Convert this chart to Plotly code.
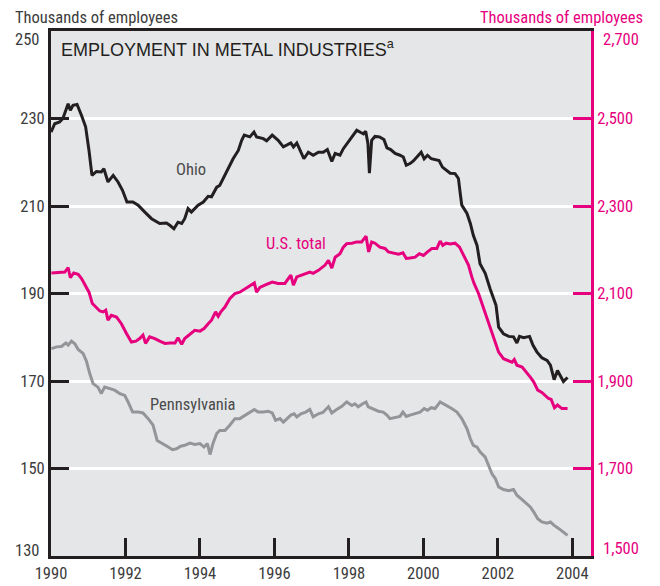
import plotly.graph_objects as go

# ---------------- data ----------------
ohio_t = [1990.00, 1990.10, 1990.23, 1990.32, 1990.46, 1990.52, 1990.59, 1990.70, 1990.82, 1990.93,
          1991.02, 1991.10, 1991.22, 1991.35, 1991.42, 1991.53, 1991.67, 1991.80, 1991.92, 1992.04,
          1992.20, 1992.34, 1992.52, 1992.70, 1992.92, 1993.10, 1993.19, 1993.30, 1993.41, 1993.51,
          1993.59, 1993.68, 1993.77, 1993.95, 1994.09, 1994.22, 1994.31, 1994.45, 1994.53, 1994.62,
          1994.76, 1994.89, 1995.03, 1995.12, 1995.19, 1995.34, 1995.45, 1995.52, 1995.70, 1995.79,
          1995.94, 1996.10, 1996.24, 1996.33, 1996.44, 1996.51, 1996.60, 1996.69, 1996.79, 1996.91,
          1997.04, 1997.18, 1997.31, 1997.42, 1997.54, 1997.63, 1997.76, 1997.85, 1997.98, 1998.12,
          1998.21, 1998.32, 1998.39, 1998.45, 1998.51, 1998.55, 1998.61, 1998.70, 1998.82, 1998.94,
          1999.02, 1999.12, 1999.24, 1999.37, 1999.46, 1999.54, 1999.64, 1999.73, 1999.84, 1999.94,
          2000.02, 2000.11, 2000.21, 2000.31, 2000.42, 2000.51, 2000.61, 2000.72, 2000.85, 2000.94,
          2000.99, 2001.03, 2001.17, 2001.26, 2001.34, 2001.44, 2001.52, 2001.66, 2001.79, 2001.95,
          2002.02, 2002.15, 2002.29, 2002.42, 2002.51, 2002.58, 2002.69, 2002.85, 2002.94, 2003.05,
          2003.18, 2003.32, 2003.41, 2003.51, 2003.60, 2003.76, 2003.87]
ohio_v = [226.9, 228.8, 229.2, 230.0, 233.4, 231.9, 233.0, 233.2, 230.7, 228.1,
          222.7, 217.0, 217.9, 217.8, 218.5, 215.5, 217.0, 215.5, 213.6, 210.9,
          210.9, 210.2, 208.6, 207.1, 206.0, 206.1, 205.6, 204.8, 206.3, 206.0,
          207.1, 209.4, 208.6, 210.2, 210.9, 212.2, 212.1, 214.3, 214.7, 216.3,
          218.5, 220.8, 222.7, 225.0, 226.2, 225.8, 226.9, 225.8, 225.4, 224.9,
          226.2, 225.0, 223.5, 223.9, 224.4, 223.5, 224.4, 222.7, 220.8, 222.3,
          221.6, 222.3, 222.3, 222.9, 220.2, 222.0, 221.6, 223.1, 224.6, 226.2,
          227.3, 226.8, 226.5, 227.1, 224.3, 217.5, 225.0, 225.9, 225.8, 225.2,
          223.3, 222.9, 222.0, 221.6, 221.2, 219.3, 219.7, 220.3, 221.4, 222.3,
          220.8, 221.6, 220.8, 220.6, 220.4, 218.9, 218.3, 217.5, 217.4, 216.3,
          212.8, 210.2, 208.3, 206.0, 203.3, 201.0, 196.8, 194.6, 191.1, 187.3,
          182.3, 180.8, 180.2, 180.1, 178.7, 180.2, 179.9, 180.2, 178.2, 176.6,
          175.3, 174.7, 173.6, 170.3, 172.4, 169.9, 170.8]

us_t = [1990.01, 1990.23, 1990.37, 1990.46, 1990.52, 1990.61, 1990.73, 1990.82, 1990.91, 1991.02,
        1991.11, 1991.22, 1991.31, 1991.40, 1991.47, 1991.53, 1991.62, 1991.76, 1991.89, 1992.03,
        1992.16, 1992.28, 1992.38, 1992.47, 1992.54, 1992.65, 1992.79, 1992.92, 1993.06, 1993.19,
        1993.33, 1993.41, 1993.51, 1993.59, 1993.73, 1993.86, 1994.00, 1994.11, 1994.22, 1994.31,
        1994.42, 1994.49, 1994.56, 1994.67, 1994.80, 1994.94, 1995.07, 1995.21, 1995.34, 1995.46,
        1995.52, 1995.61, 1995.74, 1995.94, 1996.10, 1996.28, 1996.44, 1996.51, 1996.60, 1996.73,
        1996.84, 1996.95, 1997.04, 1997.18, 1997.36, 1997.45, 1997.54, 1997.63, 1997.76, 1997.85,
        1997.94, 1998.08, 1998.21, 1998.34, 1998.46, 1998.53, 1998.61, 1998.70, 1998.83, 1998.97,
        1999.06, 1999.19, 1999.33, 1999.45, 1999.54, 1999.64, 1999.78, 1999.89, 2000.00, 2000.11,
        2000.23, 2000.36, 2000.45, 2000.52, 2000.61, 2000.72, 2000.85, 2000.97, 2001.08, 2001.21,
        2001.30, 2001.36, 2001.48, 2001.57, 2001.70, 2001.79, 2001.93, 2002.02, 2002.15, 2002.29,
        2002.38, 2002.44, 2002.51, 2002.65, 2002.76, 2002.87, 2002.96, 2003.07, 2003.18, 2003.27,
        2003.36, 2003.43, 2003.52, 2003.60, 2003.72, 2003.87]
us_v = [2147, 2149, 2149, 2159, 2136, 2147, 2144, 2134, 2119, 2103,
        2077, 2068, 2060, 2058, 2062, 2039, 2050, 2046, 2031, 2008,
        1989, 1991, 1997, 2005, 1986, 2001, 1997, 1991, 1986, 1987,
        1987, 1999, 1984, 1997, 2008, 2016, 2014, 2020, 2031, 2039,
        2058, 2048, 2058, 2069, 2088, 2100, 2103, 2111, 2119, 2124,
        2103, 2114, 2119, 2126, 2123, 2123, 2142, 2119, 2138, 2142,
        2144, 2149, 2146, 2153, 2165, 2176, 2158, 2183, 2191, 2206,
        2214, 2215, 2218, 2218, 2231, 2195, 2218, 2215, 2206, 2203,
        2195, 2193, 2190, 2193, 2180, 2181, 2183, 2191, 2187, 2195,
        2203, 2203, 2220, 2210, 2215, 2213, 2215, 2206, 2187, 2165,
        2138, 2123, 2100, 2077, 2046, 2020, 1989, 1966, 1951, 1946,
        1943, 1949, 1936, 1932, 1921, 1909, 1898, 1879, 1874, 1867,
        1860, 1858, 1839, 1845, 1837, 1837]

pa_t = [1990.01, 1990.15, 1990.28, 1990.40, 1990.46, 1990.55, 1990.64, 1990.73, 1990.86, 1990.95,
        1991.04, 1991.13, 1991.26, 1991.35, 1991.44, 1991.56, 1991.71, 1991.85, 1991.98, 1992.07,
        1992.19, 1992.34, 1992.47, 1992.61, 1992.74, 1992.85, 1993.01, 1993.15, 1993.26, 1993.37,
        1993.48, 1993.59, 1993.73, 1993.86, 1994.00, 1994.11, 1994.20, 1994.27, 1994.35, 1994.45,
        1994.53, 1994.67, 1994.80, 1994.94, 1995.07, 1995.21, 1995.34, 1995.46, 1995.56, 1995.70,
        1995.83, 1995.94, 1996.03, 1996.15, 1996.24, 1996.33, 1996.44, 1996.53, 1996.60, 1996.71,
        1996.84, 1996.95, 1997.04, 1997.18, 1997.30, 1997.45, 1997.54, 1997.67, 1997.81, 1997.94,
        1998.08, 1998.16, 1998.25, 1998.37, 1998.46, 1998.52, 1998.65, 1998.79, 1998.92, 1999.02,
        1999.10, 1999.24, 1999.37, 1999.45, 1999.54, 1999.64, 1999.78, 1999.91, 2000.02, 2000.11,
        2000.21, 2000.31, 2000.45, 2000.54, 2000.65, 2000.76, 2000.90, 2001.03, 2001.17, 2001.26,
        2001.34, 2001.44, 2001.52, 2001.66, 2001.75, 2001.84, 2001.93, 2002.02, 2002.15, 2002.29,
        2002.42, 2002.51, 2002.65, 2002.76, 2002.87, 2002.96, 2003.07, 2003.18, 2003.32, 2003.41,
        2003.51, 2003.63, 2003.76, 2003.87]
pa_v = [177.4, 177.8, 177.9, 178.7, 178.2, 179.1, 178.5, 177.2, 176.3, 174.6,
        171.7, 169.4, 168.6, 167.1, 168.6, 168.3, 167.9, 167.1, 166.7, 165.2,
        162.9, 162.9, 162.7, 161.4, 159.9, 156.4, 155.7, 154.9, 154.3, 154.5,
        155.1, 155.3, 155.8, 155.5, 155.7, 154.9, 155.7, 153.2, 155.7, 158.0,
        158.7, 158.7, 159.9, 161.4, 161.4, 162.2, 162.9, 163.5, 162.9, 162.9,
        163.1, 162.7, 161.0, 161.4, 160.6, 161.4, 162.2, 162.5, 161.8, 162.5,
        162.9, 163.5, 161.8, 162.5, 162.8, 164.1, 162.7, 163.5, 164.2, 165.2,
        164.4, 164.8, 164.1, 164.8, 165.2, 164.1, 163.7, 163.1, 162.9, 162.2,
        161.4, 161.6, 161.9, 162.9, 161.9, 162.2, 162.5, 162.9, 163.7, 163.3,
        163.9, 163.7, 165.2, 164.8, 164.2, 163.7, 162.9, 161.4, 159.1, 156.8,
        155.3, 154.9, 153.8, 152.6, 150.7, 148.8, 147.7, 145.8, 145.2, 144.9,
        145.2, 143.9, 142.9, 142.1, 141.2, 140.1, 138.5, 137.8, 137.5, 137.8,
        137.0, 136.3, 135.5, 134.7]

x_ticks = [1990, 1992, 1994, 1996, 1998, 2000, 2002, 2004]
left_ticks = [130, 150, 170, 190, 210, 230, 250]
right_ticks = [1500, 1700, 1900, 2100, 2300, 2500, 2700]

# ---------------- style ----------------
BLACK = "#231f20"
PINK = "#e6007e"
GRAY = "#939598"
TXT = "#3c3c3c"
NARROW = "Roboto Condensed, Noto Sans Condensed, Liberation Sans Narrow, DejaVu Sans Condensed, sans-serif"
SANS = "Liberation Sans, Arial, Helvetica, sans-serif"
FS = 16.5

fig = go.Figure()
fig.add_trace(go.Scatter(x=pa_t, y=pa_v, mode="lines", line=dict(color=GRAY, width=3), yaxis="y",
                         hoverinfo="skip"))
fig.add_trace(go.Scatter(x=ohio_t, y=ohio_v, mode="lines", line=dict(color=BLACK, width=3), yaxis="y",
                         hoverinfo="skip"))
fig.add_trace(go.Scatter(x=us_t, y=us_v, mode="lines", line=dict(color=PINK, width=3), yaxis="y2",
                         hoverinfo="skip"))

# inner ticks are drawn by the axes; the end labels are offset inward like the original
left_inner = left_ticks[1:-1]
right_inner = right_ticks[1:-1]

fig.update_layout(
    width=660, height=586,
    margin=dict(l=43, r=77, t=23, b=38),
    paper_bgcolor="white",
    plot_bgcolor="#e5e6e8",
    showlegend=False,
    xaxis=dict(range=[1990, 2004.5], tickvals=x_ticks, ticktext=[str(v) for v in x_ticks],
               ticks="inside", ticklen=18, tickwidth=3, tickcolor=BLACK,
               showline=True, linecolor=BLACK, linewidth=3, mirror=True,
               showgrid=False, zeroline=False, automargin=False,
               tickfont=dict(family=NARROW, size=FS, color=TXT)),
    yaxis=dict(range=[130, 250], tickvals=left_inner, ticktext=[str(v) for v in left_inner],
               ticks="inside", ticklen=18, tickwidth=3, tickcolor=BLACK,
               showline=True, linecolor=BLACK, linewidth=3,
               showgrid=True, gridcolor="white", gridwidth=2.5, zeroline=False,
               automargin=False,
               tickfont=dict(family=NARROW, size=FS, color=TXT)),
    yaxis2=dict(range=[1500, 2700], tickvals=right_inner, ticktext=[f"{v:,}" for v in right_inner],
                overlaying="y", side="right", ticks="inside", ticklen=18, tickwidth=3, tickcolor=PINK,
                showline=True, linecolor=PINK, linewidth=3,
                showgrid=False, zeroline=False, automargin=False,
                tickfont=dict(family=NARROW, size=FS, color=PINK)),
)

ann = [
    dict(text="EMPLOYMENT IN METAL INDUSTRIES<sup>a</sup>", xref="paper", yref="paper", x=0, y=0.967,
         xanchor="left", yanchor="middle", xshift=8, showarrow=False,
         font=dict(family=SANS, size=18, color=BLACK)),
    dict(text="Thousands of employees", xref="paper", yref="paper", x=-0.0704, y=1.0255,
         xanchor="left", yanchor="middle", showarrow=False, font=dict(family=NARROW, size=FS, color=TXT)),
    dict(text="Thousands of employees", xref="paper", yref="paper", x=1.0994, y=1.0255,
         xanchor="right", yanchor="middle", showarrow=False, font=dict(family=NARROW, size=FS, color=PINK)),
    dict(text=str(left_ticks[-1]), xref="paper", yref="y", x=0, y=left_ticks[-1], xanchor="right",
         yanchor="middle", xshift=-10, yshift=-8, showarrow=False,
         font=dict(family=NARROW, size=FS, color=TXT)),
    dict(text=str(left_ticks[0]), xref="paper", yref="y", x=0, y=left_ticks[0], xanchor="right",
         yanchor="middle", xshift=-10, yshift=6, showarrow=False,
         font=dict(family=NARROW, size=FS, color=TXT)),
    dict(text=f"{right_ticks[-1]:,}", xref="paper", yref="y2", x=1, y=right_ticks[-1], xanchor="left",
         yanchor="middle", xshift=10, yshift=-8, showarrow=False,
         font=dict(family=NARROW, size=FS, color=PINK)),
    dict(text=f"{right_ticks[0]:,}", xref="paper", yref="y2", x=1, y=right_ticks[0], xanchor="left",
         yanchor="middle", xshift=10, yshift=8, showarrow=False,
         font=dict(family=NARROW, size=FS, color=PINK)),
    dict(text="Ohio", xref="x", yref="y", x=1993.77, y=218.4, showarrow=False,
         font=dict(family=NARROW, size=FS, color="#4a4a4a")),
    dict(text="Pennsylvania", xref="x", yref="y", x=1993.80, y=164.7, showarrow=False,
         font=dict(family=NARROW, size=FS, color="#4a4a4a")),
    dict(text="U.S. total", xref="x", yref="y", x=1996.57, y=201.5, showarrow=False,
         font=dict(family=NARROW, size=FS, color=PINK)),
]
fig.update_layout(annotations=ann)

fig.write_html("out.html")
